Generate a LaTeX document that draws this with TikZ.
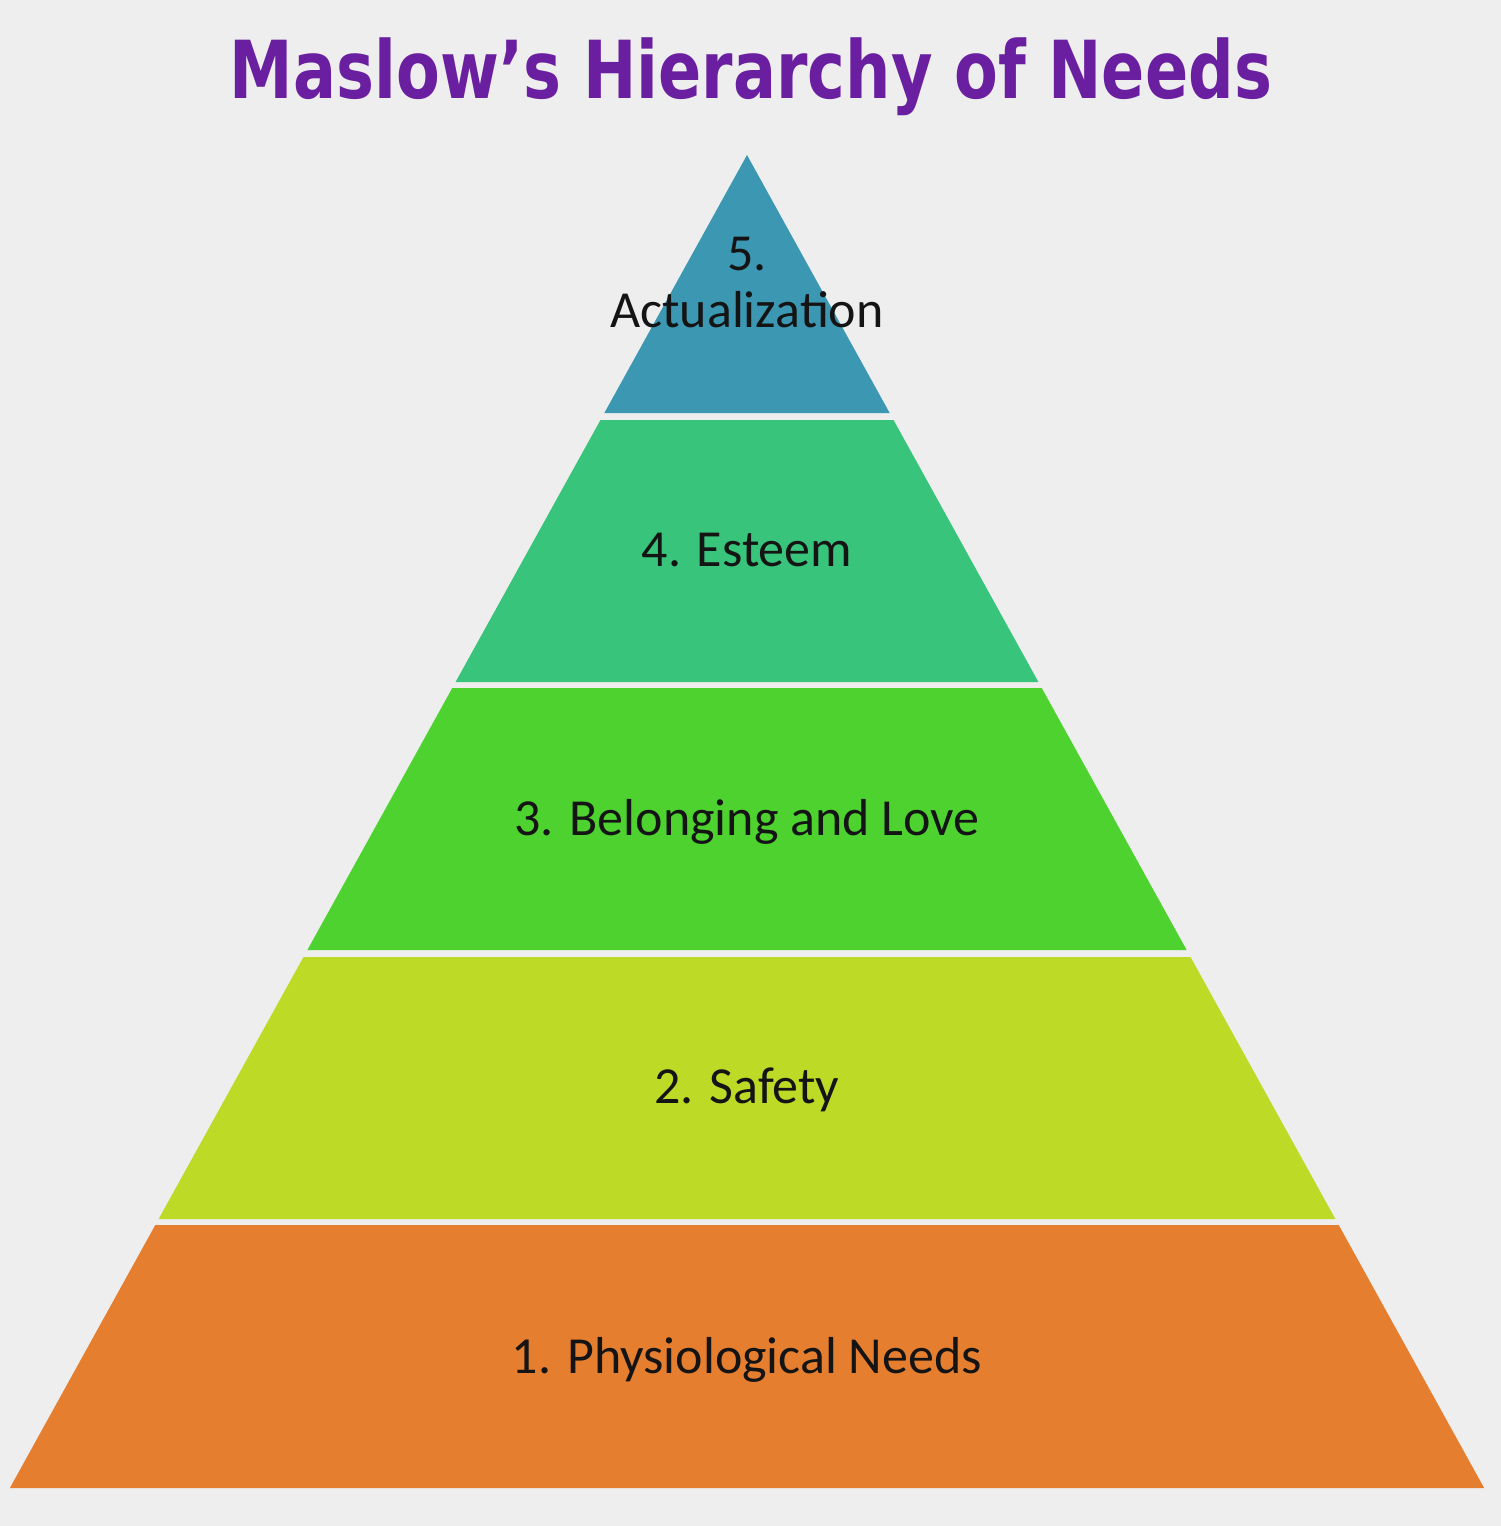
\documentclass[tikz,border=0pt]{standalone}
\usepackage{fontspec}
\setmainfont{Carlito}
\newfontfamily\titlefont{DejaVu Sans}
\usepackage{graphicx}
\definecolor{bgc}{HTML}{EEEEEE}
\definecolor{titlec}{HTML}{6A1FA0}
\definecolor{cfive}{HTML}{3C97B2}
\definecolor{cfour}{HTML}{38C47A}
\definecolor{cthree}{HTML}{4DD22F}
\definecolor{ctwo}{HTML}{BDDA27}
\definecolor{cone}{HTML}{E67E2F}
\newcommand\mlayer[3]{\fill[#3] ({747-0.553*(#1-155)},#1) -- ({747+0.553*(#1-155)},#1) -- ({747+0.553*(#2-155)},#2) -- ({747-0.553*(#2-155)},#2) -- cycle;}
\begin{document}
\begin{tikzpicture}[x=1pt,y=-1pt,
  lbl/.style={anchor=base,text=black!92,font=\fontsize{52}{58}\selectfont,inner sep=0pt,align=center}]
\fill[bgc] (0,0) rectangle (1501,1526);
\useasboundingbox (0,0) rectangle (1501,1526);
% title
\node[anchor=base,inner sep=0pt,text=titlec] (title) at (751,98)
  {\resizebox{1042pt}{\height}{\titlefont\bfseries\fontsize{80}{90}\selectfont Maslow’s Hierarchy of Needs}};
% layers
\fill[cfive] (747,155) -- ({747+0.553*(413-155)},413) -- ({747-0.553*(413-155)},413) -- cycle;
\mlayer{420}{682}{cfour}
\mlayer{688}{950}{cthree}
\mlayer{957}{1219}{ctwo}
\mlayer{1225}{1488}{cone}
% labels
\node[lbl] (l5a) at (747,270) {5.};
\node[lbl] (l5b) at (747,327) {Actualization};
\node[lbl] (l4) at (747,566) {4. Esteem};
\node[lbl] (l3) at (747,835) {3. Belonging and Love};
\node[lbl] (l2) at (747,1103) {2. Safety};
\node[lbl] (l1) at (747,1373) {1. Physiological Needs};
\end{tikzpicture}
\end{document}
